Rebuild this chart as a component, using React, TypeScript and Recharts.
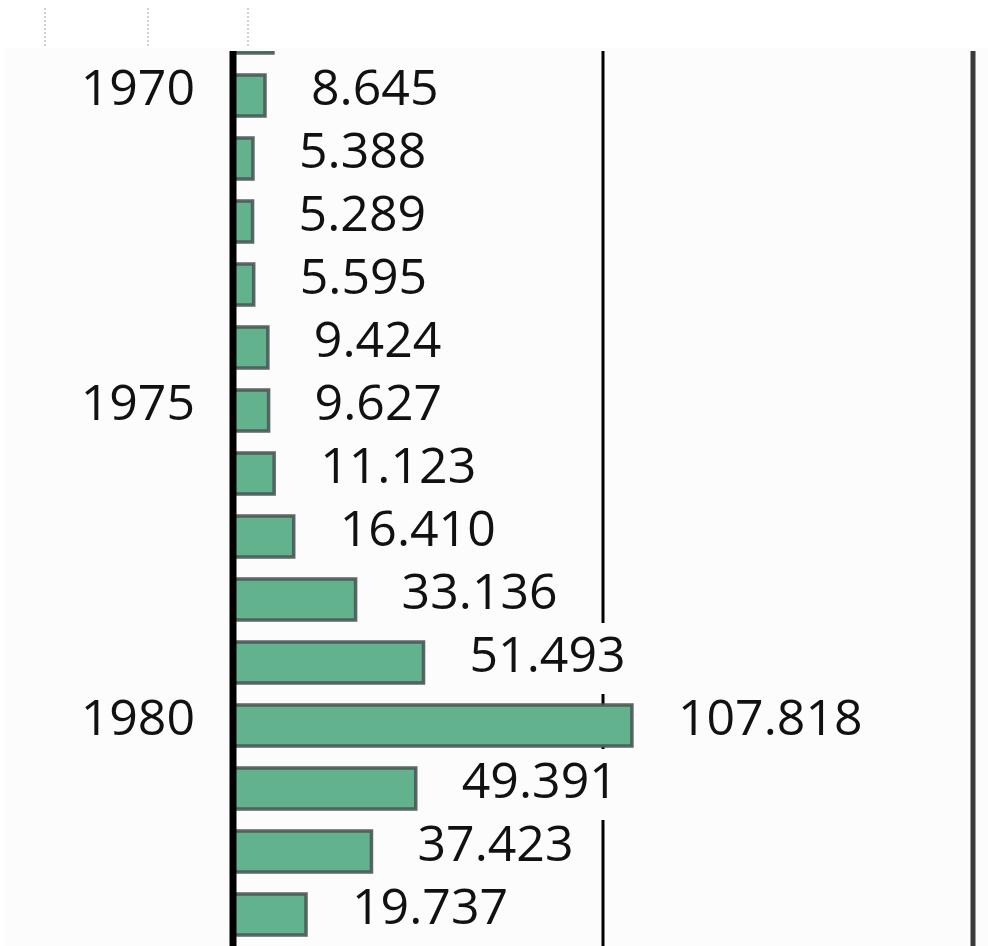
import React from 'react';
import { BarChart, Bar, XAxis, YAxis, CartesianGrid, ReferenceLine, LabelList } from 'recharts';

const years = ['1969', '1970', '1971', '1972', '1973', '1974', '1975', '1976', '1977', '1978', '1979', '1980', '1981', '1982', '1983'];
const values = [10.8, 8.645, 5.388, 5.289, 5.595, 9.424, 9.627, 11.123, 16.41, 33.136, 51.493, 107.818, 49.391, 37.423, 19.737];
const shownYears = ['1970', '1975', '1980'];
const hiddenLabelYears = ['1969'];
const xTicks = [0, 100];

const data = years.map((year, i) => ({ year, value: values[i] }));

const FONT = '"Open Sans", "Noto Sans", sans-serif';
const FS = 50;
const BG = '#fcfcfc';

const YTick = (props: any) => {
  const { x, y, payload } = props;
  if (!shownYears.includes(String(payload.value))) return null;
  return (
    <text x={x - 30} y={y - 8} dy="0.355em" textAnchor="end" fontFamily={FONT} fontSize={FS} fill="#111">
      {payload.value}
    </text>
  );
};

const ValueLabel = (props: any) => {
  const { x, y, width, height, value, index } = props;
  if (hiddenLabelYears.includes(years[index])) return null;
  const end = Number(x) + Number(width);
  const cy = Number(y) + Number(height) / 2;
  const txt = Number(value).toFixed(3);
  const w = txt.length * 0.55 * FS;
  return (
    <g>
      <rect x={end + 32} y={cy - 31.5 - 8} width={w + 22} height={71} fill={BG} />
      <text x={end + 46} y={cy - 8} dy="0.355em" textAnchor="start" fontFamily={FONT} fontSize={FS} fill="#111">
        {txt}
      </text>
    </g>
  );
};

export default function App() {
  return (
    <div style={{ position: 'fixed', left: 0, top: 0, width: 988, height: 946, overflow: 'hidden', background: '#fff' }}>
      <div style={{ position: 'absolute', left: 4, top: 48, width: 984, height: 898, background: BG }} />
      <div style={{ position: 'absolute', left: 0, top: 1 }}>
        <BarChart
          width={988}
          height={945}
          data={data}
          layout="vertical"
          margin={{ top: 0, right: 15, bottom: 0, left: 0 }}
          barSize={41}
        >
          <CartesianGrid horizontal={false} vertical={true} stroke="#000" strokeWidth={3} />
          <XAxis type="number" domain={[0, 200]} ticks={xTicks} hide />
          <YAxis
            type="category"
            dataKey="year"
            width={233}
            interval={0}
            tickLine={false}
            axisLine={{ stroke: '#000', strokeWidth: 7 }}
            tick={<YTick />}
          />
          <Bar dataKey="value" fill="#63b28e" stroke="#4b5855" strokeOpacity={0.9} strokeWidth={3.5} isAnimationActive={false}>
            <LabelList dataKey="value" content={<ValueLabel />} />
          </Bar>
          <ReferenceLine x={200} stroke="#3a3a3a" strokeWidth={5} />
        </BarChart>
      </div>
      <svg style={{ position: 'absolute', left: 0, top: 0 }} width={988} height={51}>
        <rect x={0} y={0} width={988} height={48} fill="#fff" />
        <rect x={4} y={48} width={984} height={3} fill={BG} />
        <line x1={45} y1={8} x2={45} y2={48} stroke="#d0d0d0" strokeWidth={2} strokeDasharray="2 2" />
        <line x1={148} y1={8} x2={148} y2={48} stroke="#d0d0d0" strokeWidth={2} strokeDasharray="2 2" />
        <line x1={248} y1={8} x2={248} y2={48} stroke="#d0d0d0" strokeWidth={2} strokeDasharray="2 2" />
      </svg>
    </div>
  );
}
